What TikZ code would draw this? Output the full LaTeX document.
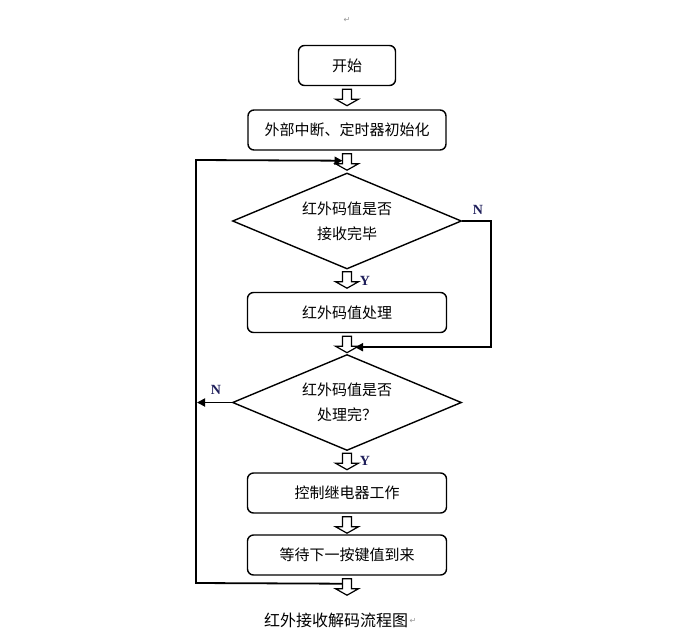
\documentclass[tikz,border=0pt]{standalone}
\usepackage{fontspec}
\setmainfont{Liberation Serif}
\newfontfamily\cjk{Noto Sans CJK SC}
\newfontfamily\symf{DejaVu Sans}
\usetikzlibrary{shapes.geometric,arrows.meta,calc}
\definecolor{navy}{RGB}{30,30,90}
\definecolor{markgray}{RGB}{150,150,150}
\tikzset{
  box/.style={draw, line width=1.4pt, rounded corners=6pt, minimum height=40pt, inner sep=0pt},
  dec/.style={draw, diamond, aspect=2.4, minimum width=229pt, minimum height=96pt, inner sep=0pt, line width=1.4pt, align=center},
  flow/.style={line width=1.8pt},
  tipflow/.style={line width=1.8pt, -{Triangle[length=8pt,width=8pt]}},
  yn/.style={font=\bfseries\fontsize{14}{14}\selectfont, text=navy, inner sep=0pt},
  retmark/.style={font=\symf\fontsize{8}{8}\selectfont, text=markgray, inner sep=0pt},
  harrow/.pic={\draw[line width=1.2pt, line join=miter, fill=white]
     (-4.5,0) -- (-4.5,10) -- (-11.5,10) -- (0,16.5) -- (11.5,10) -- (4.5,10) -- (4.5,0) -- cycle;}
}
\begin{document}
\begin{tikzpicture}[x=1pt, y=-1pt, font=\cjk\fontsize{15}{25}\selectfont]
\useasboundingbox[fill=white] (0,0) rectangle (682,635);

\node[retmark] (ret1) at (347,20) {↵};

\node[box, minimum width=97pt] (start) at (347,65.5) {开始};
\node[box, minimum width=198pt] (init) at (347,130) {外部中断、定时器初始化};
\node[dec] (dec1) at (347,221) {红外码值是否\\接收完毕};
\node[box, minimum width=199pt] (proc) at (347,312.5) {红外码值处理};
\node[dec] (dec2) at (347,402.5) {红外码值是否\\处理完？};
\node[box, minimum width=199pt] (relay) at (347,493) {控制继电器工作};
\node[box, minimum width=199pt] (wait) at (347,555) {等待下一按键值到来};

% hollow arrows between blocks
\pic at ($(start.south)+(0,3)$) {harrow};
\pic at ($(init.south)+(0,3)$) {harrow};
\pic at ($(dec1.south)+(0,2)$) {harrow};
\pic at ($(proc.south)+(0,3)$) {harrow};
\pic at ($(dec2.south)+(0,2)$) {harrow};
\pic at ($(relay.south)+(0,3)$) {harrow};
\pic at ($(wait.south)+(0,3)$) {harrow};

% labels
\node[yn] (y1) at (365,281) {Y};
\node[yn] (y2) at (365,461) {Y};
\node[yn] (n1) at (478,210) {N};
\node[yn] (n2) at (216,390) {N};

% N branch of first decision
\coordinate (r1) at ($(dec1.east)+(29,0)$);
\draw[tipflow] (dec1.east) -- (r1) |- ($(proc.south)+(8,14)$);

% loop back
\coordinate (L1) at (196,583);
\coordinate (L2) at (196,160);
\draw[tipflow] ($(wait.south)+(-4.5,8)$) -- (L1) -- (L2) -- ($(init.south)+(-4.5,10)$);

% N branch of second decision
\draw[tipflow] (dec2.west) -- ($(L1 |- dec2.west)+(1,0)$);

% caption
\node[anchor=west, font=\cjk\fontsize{16}{16}\selectfont, inner sep=0pt] (cap) at (264,620) {红外接收解码流程图};
\node[retmark, anchor=west] (ret2) at ($(cap.east)+(1,1)$) {↵};
\end{tikzpicture}
\end{document}
